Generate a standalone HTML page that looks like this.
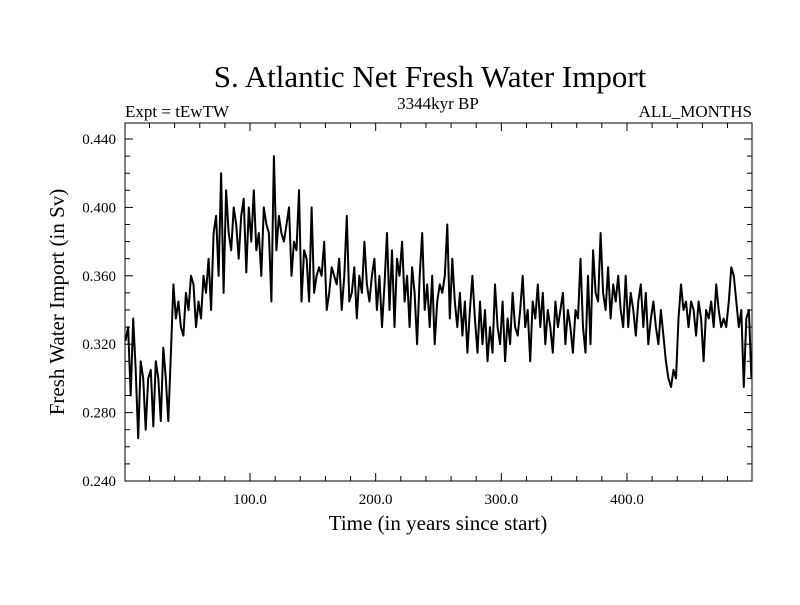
<!DOCTYPE html>
<html><head><meta charset="utf-8"><style>
body{margin:0;background:#fff;}
svg text{font-family:"Liberation Serif",serif;fill:#000;}
</style></head><body>
<svg id="chart" width="800" height="600" xmlns="http://www.w3.org/2000/svg">
<text x="430" y="87" font-size="31" text-anchor="middle">S. Atlantic Net Fresh Water Import</text>
<text x="125" y="117" font-size="17">Expt = tEwTW</text>
<text x="438" y="109" font-size="17" text-anchor="middle">3344kyr BP</text>
<text x="752" y="117" font-size="17" text-anchor="end">ALL_MONTHS</text>
<text x="438" y="530" font-size="21" text-anchor="middle">Time (in years since start)</text>
<text transform="translate(64,302) rotate(-90)" font-size="21" text-anchor="middle">Fresh Water Import (in Sv)</text>
<g id="axes"></g>
<path id="series" fill="none" stroke="#000" stroke-width="2" stroke-linejoin="round"/>
<rect x="125" y="123" width="627" height="358" fill="none" stroke="#000" stroke-width="1"/>
</svg>
<script>
const startYear = 1;
const yearStep = 2;
const values = [
.322,.33,.29,.335,.305,.265,.31,.30,.27,.30,
.305,.272,.31,.30,.275,.318,.30,.275,.315,.355,
.335,.345,.33,.325,.35,.34,.36,.355,.33,.345,
.335,.36,.35,.37,.34,.385,.395,.36,.42,.35,
.41,.385,.375,.40,.39,.37,.395,.405,.362,.40,
.38,.41,.375,.385,.36,.40,.39,.385,.345,.43,
.375,.395,.385,.38,.39,.40,.36,.38,.375,.41,
.345,.375,.37,.345,.40,.35,.36,.365,.36,.38,
.34,.35,.365,.36,.355,.37,.34,.36,.395,.345,
.35,.365,.335,.36,.35,.38,.355,.345,.36,.37,
.34,.36,.33,.355,.385,.34,.375,.33,.37,.36,
.38,.345,.36,.33,.365,.35,.32,.36,.385,.34,
.355,.33,.36,.32,.345,.355,.35,.36,.39,.335,
.37,.345,.33,.35,.325,.345,.315,.34,.36,.335,
.315,.345,.32,.34,.31,.33,.315,.355,.33,.32,
.345,.31,.335,.32,.35,.33,.325,.34,.36,.33,
.34,.31,.345,.335,.355,.33,.35,.32,.34,.33,
.315,.345,.33,.34,.35,.32,.34,.33,.315,.34,
.335,.37,.33,.315,.36,.32,.375,.35,.345,.385,
.35,.34,.365,.335,.355,.345,.36,.34,.33,.36,
.33,.35,.34,.325,.345,.355,.33,.35,.32,.335,
.345,.33,.32,.34,.325,.31,.30,.295,.305,.30,
.335,.355,.34,.345,.33,.345,.34,.325,.345,.335,
.31,.34,.335,.345,.33,.355,.34,.33,.335,.33,
.345,.365,.36,.345,.33,.34,.295,.335,.34,.30];
const xTickValues = [100,200,300,400];
const xTickLabels = ["100.0","200.0","300.0","400.0"];
const yTickValues = [0.24,0.28,0.32,0.36,0.40,0.44];
const yTickLabels = ["0.240","0.280","0.320","0.360","0.400","0.440"];

const X0=125,X1=752,Y0=481,Y1=123;
const xMin=0.5,xMax=499.5,yMin=0.24,yMax=0.24+(481-123)/1710;
function sx(v){return X0+(v-xMin)/(xMax-xMin)*(X1-X0);}
function sy(v){return Y0-(v-yMin)/(yMax-yMin)*(Y0-Y1);}
const NS="http://www.w3.org/2000/svg";
const axes=document.getElementById('axes');
function line(x1,y1,x2,y2,name){
  const l=document.createElementNS(NS,'line');
  l.setAttribute('x1',x1);l.setAttribute('y1',y1);l.setAttribute('x2',x2);l.setAttribute('y2',y2);
  l.setAttribute('stroke','#000');l.setAttribute('stroke-width','1');
  
  
  axes.appendChild(l);
}
function text(x,y,s,anchor,name){
  const t=document.createElementNS(NS,'text');
  t.setAttribute('x',x);t.setAttribute('y',y);t.setAttribute('font-size','15');t.setAttribute('text-anchor',anchor);
  t.textContent=s;
  
  
  axes.appendChild(t);
}
for(let v=20;v<500;v+=20){
  const x=sx(v), major=(v%100===0), len=major?8:5;
  line(x,Y0,x,Y0-len,'x-tick');
  line(x,Y1,x,Y1+len,'x-tick-top');
}
xTickValues.forEach((v,i)=>text(sx(v),Y0+23,xTickLabels[i],'middle','x-tick-label'));
for(let k=0;k<=20;k++){
  const v=0.24+k*0.01, y=sy(v), major=(k%4===0), len=major?8:5;
  line(X0,y,X0+len,y,'y-tick');
  line(X1,y,X1-len,y,'y-tick-right');
}
yTickValues.forEach((v,i)=>text(X0-9,sy(v)+5,yTickLabels[i],'end','y-tick-label'));
let d='';
values.forEach((v,i)=>{d+=(i?'L':'M')+sx(startYear+i*yearStep).toFixed(1)+','+sy(v).toFixed(1);});
document.getElementById('series').setAttribute('d',d);
</script>
</body></html>
